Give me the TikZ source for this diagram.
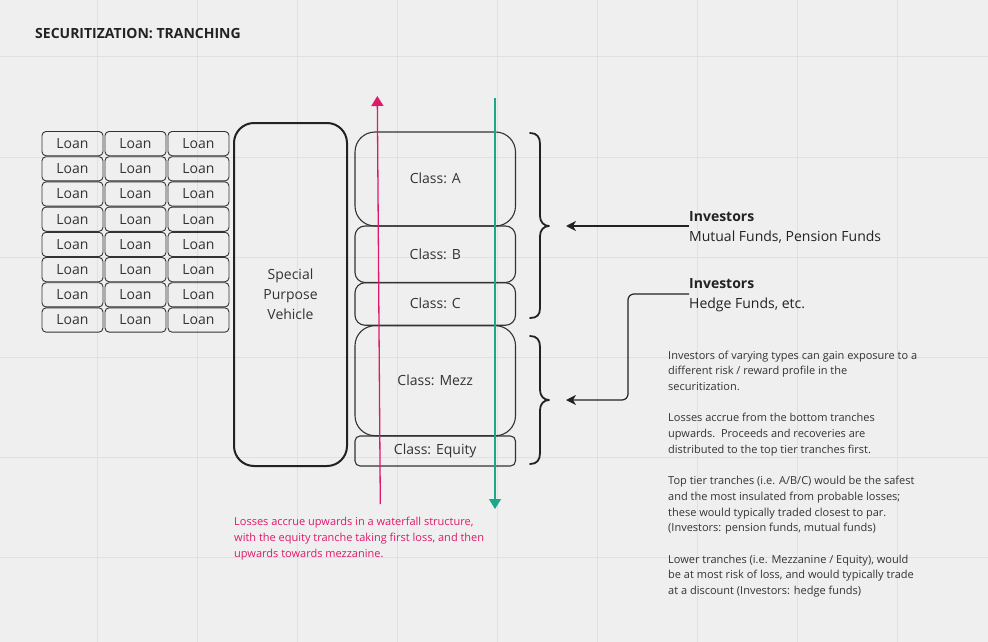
\documentclass[tikz,border=0pt]{standalone}
\usepackage{fontspec}
\setmainfont{Open Sans}
\usetikzlibrary{arrows.meta}
\definecolor{bg}{HTML}{EFEFEF}
\definecolor{gridc}{HTML}{E0E0E0}
\definecolor{ink}{HTML}{333333}
\definecolor{dark}{HTML}{222222}
\definecolor{pinkc}{HTML}{E0186C}
\definecolor{greenc}{HTML}{1AA889}
\begin{document}
\begin{tikzpicture}[x=1pt,y=-1pt,
  loan/.style={draw=ink, line width=0.9pt, rounded corners=4pt, minimum width=61pt, minimum height=24.2pt, inner sep=0pt, font=\fontsize{14}{16}\selectfont, text=ink},
  spvbox/.style={draw=dark, line width=2pt, rounded corners=20pt, minimum width=113pt, minimum height=343pt, inner sep=0pt, align=center, font=\fontsize{14}{20}\selectfont, text=ink},
  tranche/.style={draw=ink, line width=1.1pt, minimum width=160.5pt, inner sep=0pt, font=\fontsize{14}{16}\selectfont, text=ink},
  bracec/.style={draw=dark, line width=1.8pt, line cap=round, line join=round},
  invtext/.style={anchor=west, inner sep=0pt, align=left, font=\fontsize{14}{20}\selectfont, text=dark},
  note/.style={anchor=north west, inner sep=0pt, align=left, font=\fontsize{11}{15.7}\selectfont, text=ink},
  arrowline/.style={draw=dark, line width=1.2pt, -{Stealth[length=10pt,width=10pt,inset=3pt]}},
]
\fill[bg] (0,0) rectangle (988,642);
\useasboundingbox (0,0) rectangle (988,642);
% grid
\foreach \x in {97,197,...,897} \draw[gridc, line width=1pt] (\x,0) -- (\x,642);
\foreach \y in {57,157,...,557} \draw[gridc, line width=1pt] (0,\y) -- (988,\y);

% title
\node[anchor=west, inner sep=0pt, font=\fontsize{14}{16}\selectfont\bfseries, text=dark] (title) at (35,34) {SECURITIZATION: TRANCHING};

% loans
\foreach \r in {0,...,7} {
  \foreach \c in {0,1,2} {
    \node[loan] (L\r\c) at ({72.5+63*\c},{143.6+25.2*\r}) {Loan};
  }
}

% SPV
\node[spvbox] (spv) at (290.5,294.5) {Special\\Purpose\\Vehicle};

% tranches
\node[tranche, rounded corners=20pt, minimum height=94pt] (ta) at (435.25,179) {\raisebox{1.5pt}{Class: A}};
\node[tranche, rounded corners=10pt, minimum height=56.5pt] (tb) at (435.25,254.25) {\raisebox{1pt}{Class: B}};
\node[tranche, rounded corners=10pt, minimum height=42.5pt] (tc) at (435.25,304) {\raisebox{1pt}{Class: C}};
\node[tranche, rounded corners=20pt, minimum height=110pt] (tm) at (435.25,380.7) {Class: Mezz};
\node[tranche, rounded corners=5pt, minimum height=30pt] (te) at (435.25,451) {Class: Equity};

% braces
\coordinate (braceA) at (549,226);
\coordinate (braceB) at (549,400);
\draw[bracec] (530,133) .. controls (537,133) and (540,137) .. (540,144) -- (540,216)
  .. controls (540,222) and (544,226) .. (braceA)
  .. controls (544,226) and (540,230) .. (540,236) -- (540,308)
  .. controls (540,315) and (537,318) .. (530,318);
\draw[bracec] (530,336) .. controls (537,336) and (540,340) .. (540,347) -- (540,390)
  .. controls (540,396) and (544,400) .. (braceB)
  .. controls (544,400) and (540,404) .. (540,410) -- (540,453)
  .. controls (540,460) and (537,464) .. (530,464);

% investors
\coordinate (tipA) at (566,226);
\coordinate (tipB) at (566,400);
\node[invtext] (inv1) at (689,227) {\textbf{Investors}\\Mutual Funds, Pension Funds};
\node[invtext] (inv2) at (689,295.5) {\textbf{Investors}\\Hedge Funds, etc.};
\draw[arrowline] (inv1.west |- tipA) -- (tipA);
\draw[arrowline, rounded corners=6pt] (689,294) -- (628,294) |- (tipB);

% waterfall arrows
\coordinate (pinkbot) at (380.3,504);
\coordinate (pinktop) at (377.3,96);
\coordinate (greentop) at (495,98);
\coordinate (greenbot) at (495,509);
\draw[pinkc, line width=1.3pt, -{Triangle[length=10pt,width=12pt]}] (pinkbot) -- (pinktop);
\draw[greenc, line width=1.4pt, -{Triangle[length=10pt,width=12pt]}] (greentop) -- (greenbot);

% notes
\node[note, text=pinkc, font=\fontsize{11}{16}\selectfont] (pinknote) at (234,516.5)
  {Losses accrue upwards in a waterfall structure,\\with the equity tranche taking first loss, and then\\upwards towards mezzanine.};
\node[note] (sidenote) at (668,350.5)
  {Investors of varying types can gain exposure to a\\different risk / reward profile in the\\securitization.\\[15.7pt]
   Losses accrue from the bottom tranches\\upwards.\ \ Proceeds and recoveries are\\distributed to the top tier tranches first.\\[15.7pt]
   Top tier tranches (i.e. A/B/C) would be the safest\\and the most insulated from probable losses;\\these would typically traded closest to par.\\(Investors: pension funds, mutual funds)\\[15.7pt]
   Lower tranches (i.e. Mezzanine / Equity), would\\be at most risk of loss, and would typically trade\\at a discount (Investors: hedge funds)};
\end{tikzpicture}
\end{document}
